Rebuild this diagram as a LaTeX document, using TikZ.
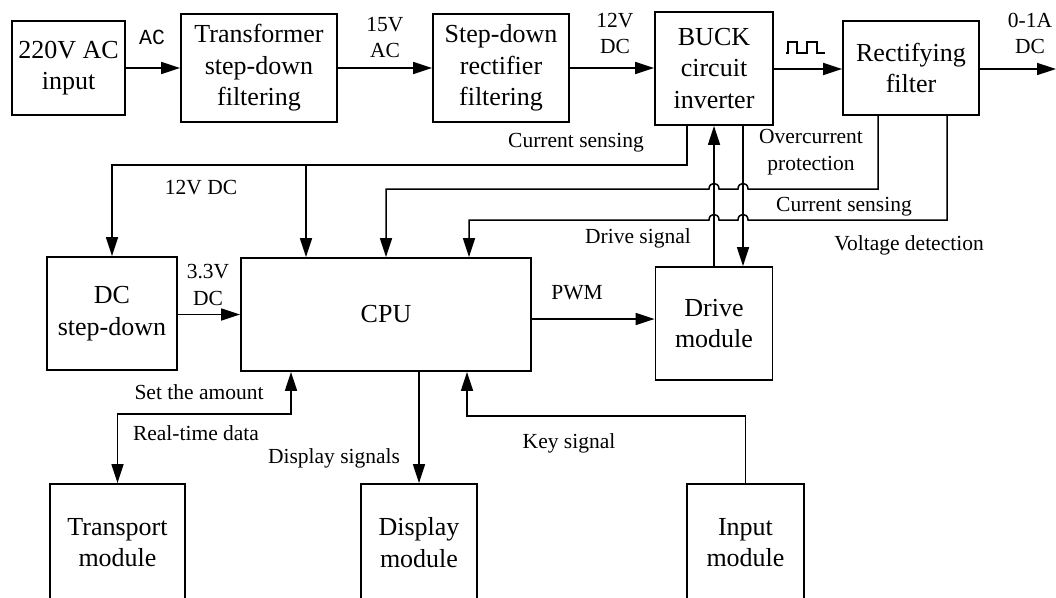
\documentclass[tikz,border=0pt]{standalone}
\usepackage{fontspec}
\setmainfont{Liberation Serif}
\newfontfamily\monofam{Liberation Mono}
\usetikzlibrary{arrows.meta}

\begin{document}
\begin{tikzpicture}[x=1pt,y=-1pt,
  blk/.style={draw, line width=1.8pt, align=center, inner sep=0pt,
    font=\fontsize{26}{31.5}\selectfont},
  lbl/.style={align=center, inner sep=0pt, font=\fontsize{21.5}{26.5}\selectfont},
  wire/.style={line width=1.5pt},
  arr/.style={wire, -{Triangle[length=19pt,width=12pt]}},
  arrboth/.style={wire, {Triangle[length=19pt,width=12pt]}-{Triangle[length=19pt,width=12pt]}},
  ]
\useasboundingbox (0,0) rectangle (1056,597);
\clip (0,0) rectangle (1056,597);

% power chain
\node[blk, minimum width=113pt, minimum height=94pt]  (in)    at (68.5,68) {220V AC\\input};
\node[blk, minimum width=156pt, minimum height=108pt] (trans) at (259,68)  {Transformer\\step-down\\filtering};
\node[blk, minimum width=136pt, minimum height=108pt] (rect)  at (501,68)  {Step-down\\rectifier\\filtering};
\node[blk, minimum width=118pt, minimum height=113pt] (buck)  at (714,68.5) {BUCK\\circuit\\inverter};
\node[blk, minimum width=136pt, minimum height=94pt]  (filt)  at (911,68)  {Rectifying\\filter};
\coordinate (out) at (1056,69);

% control section
\node[blk, minimum width=130pt, minimum height=113pt] (dcdown) at (112,313.5) {DC\\step-down};
\node[blk, minimum width=290pt, minimum height=113pt] (cpu)    at (386,314.5) {CPU};
\node[blk, minimum width=117pt, minimum height=113pt] (drive)  at (714,323.5) {Drive\\module};

% peripheral modules
\node[blk, minimum width=135pt, minimum height=117pt] (tmod) at (117.5,542.5) {Transport\\module};
\node[blk, minimum width=116pt, minimum height=117pt] (dmod) at (419,542.5)   {Display\\module};
\node[blk, minimum width=117pt, minimum height=117pt] (imod) at (745.5,542.5) {Input\\module};

% power chain connectors
\draw[arr] (in.east) -- (trans.west);
\draw[arr] (trans.east) -- (rect.west);
\draw[arr] (rect.east) -- (rect.east -| buck.west);
\draw[arr] ([yshift=-0.5pt]buck.east) -- ([yshift=-0.5pt]buck.east -| filt.west);
\draw[arr] (filt.east |- out) -- (out);

\node[inner sep=0pt, font=\monofam\fontsize{21.5}{24}\selectfont] (lac) at (152,37) {AC};
\node[lbl] (l15) at (385,37.5) {15V\\AC};
\node[lbl] (l12) at (615,33.5) {12V\\DC};
\node[lbl] (l01) at (1030,33.5) {0-1A\\DC};
\draw[line width=1.2pt] (786,53) -- (788,53) -- (788,42) -- (797,42) -- (797,53)
  -- (807,53) -- (807,42) -- (817,42) -- (817,53) -- (825,53);

% 12 V supply to step-down and CPU
\coordinate (s12) at (112,165);
\coordinate (b12) at (306,165);
\draw[arr] ([xshift=-27pt]buck.south) |- (s12) -- (dcdown.north);
\draw[arr] (b12) -- (b12 |- cpu.north);
\node[lbl] (lcs1) at (576,143) {Current sensing};
\node[lbl] (l12b) at (201,188) {12V DC};

% overcurrent protection line with hops
\coordinate (oc) at (878,189);
\coordinate (ocL) at (386,189);
\draw[arr] (filt.south -| oc) -- (oc) -- (748,189)
  .. controls (748,181.5) and (738,181.5) .. (738,189) -- (719,189)
  .. controls (719,181.5) and (709,181.5) .. (709,189) -- (ocL) -- (ocL |- cpu.north);
\node[lbl] (loc) at (811,152) {Overcurrent\\protection};

% voltage detection line with hops
\coordinate (vd) at (947,220);
\coordinate (vdL) at (469,220);
\draw[arr] (filt.south -| vd) -- (vd) -- (748,220)
  .. controls (748,212.5) and (738,212.5) .. (738,220) -- (719,220)
  .. controls (719,212.5) and (709,212.5) .. (709,220) -- (vdL) -- (vdL |- cpu.north);
\node[lbl] (lcs2) at (844,207) {Current sensing};
\node[lbl] (lvd)  at (909,245) {Voltage detection};

% drive module links
\draw[arr] (drive.north) -- (buck.south);
\draw[arr] ([xshift=29pt]buck.south) -- ([xshift=29pt]drive.north);
\node[lbl] (lds) at (638,238) {Drive signal};
\draw[arr] ([yshift=-4.5pt]cpu.east) -- ([yshift=-4.5pt]cpu.east -| drive.west);
\node[lbl] (lpwm) at (577,293) {PWM};

% 3.3 V supply
\draw[arr] (dcdown.east |- cpu) -- (cpu.west);
\node[lbl] (l33) at (208,285) {3.3V\\DC};

% peripherals
\coordinate (sa) at (291,414);
\draw[arrboth] (sa |- cpu.south) -- (sa) -| (tmod.north);
\node[lbl] (lsa) at (199,392) {Set the amount};
\node[lbl] (lrt) at (196,433) {Real-time data};

\draw[arr] (cpu.south -| dmod.north) -- (dmod.north);
\node[lbl] (lds2) at (334,458) {Display signals};

\coordinate (ks) at (467,416);
\draw[arr] (imod.north) |- (ks) -- (ks |- cpu.south);
\node[lbl] (lks) at (569,443) {Key signal};
\end{tikzpicture}
\end{document}
